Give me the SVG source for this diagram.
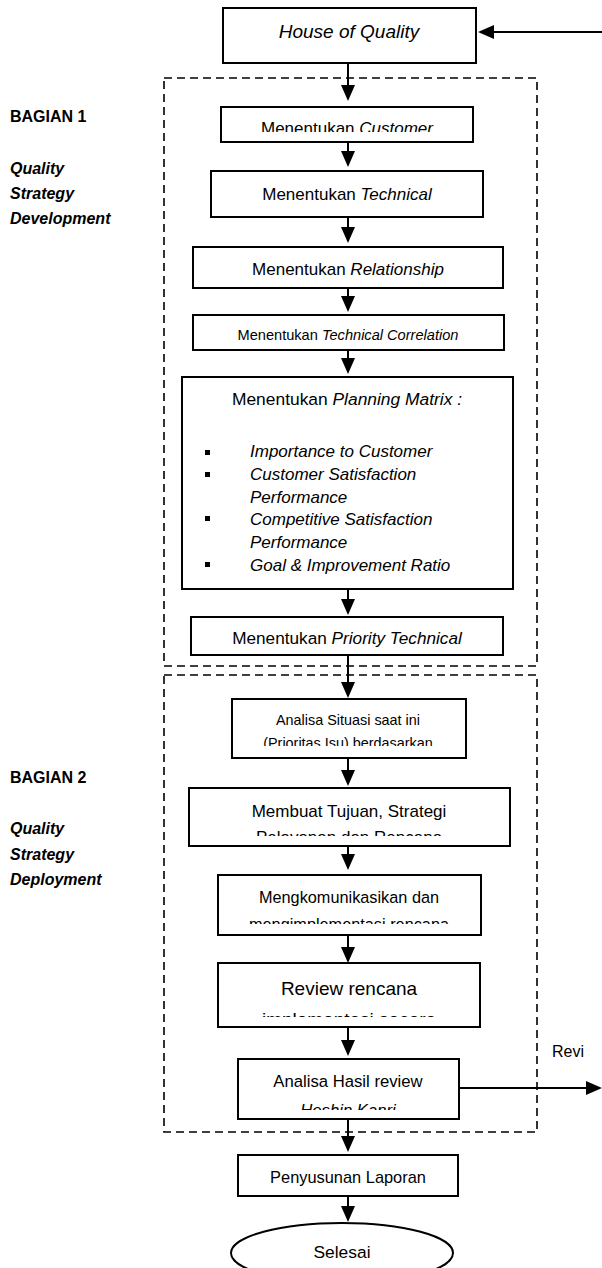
<svg xmlns="http://www.w3.org/2000/svg" width="602" height="1268" viewBox="0 0 602 1268">
<style>
.box{fill:#fff;stroke:#000;stroke-width:2}
.dash{fill:none;stroke:#000;stroke-width:1.6;stroke-dasharray:8 5}
.t{font-family:"Liberation Sans",Arial,sans-serif;fill:#000}
.c{text-anchor:middle}
.i{font-style:italic}
.lbl{font-family:"Liberation Sans",Arial,sans-serif;font-weight:bold;font-size:16px;fill:#000}
.con{stroke:#000;stroke-width:2;fill:none;marker-end:url(#ah)}
</style>
<defs>
<marker id="ah" markerUnits="userSpaceOnUse" markerWidth="16" markerHeight="14" viewBox="0 0 16 14" refX="14" refY="7" orient="auto">
<path d="M0,0 L16,7 L0,14 z" fill="#000"/>
</marker>
<clipPath id="cp-cust"><rect x="221" y="107" width="252" height="25"/></clipPath>
<clipPath id="cp-prio"><rect x="191" y="617" width="312" height="30"/></clipPath>
<clipPath id="cp-anal"><rect x="232" y="699" width="234" height="47"/></clipPath>
<clipPath id="cp-memb"><rect x="189" y="788" width="321" height="48"/></clipPath>
<clipPath id="cp-meng"><rect x="218" y="875" width="263" height="49"/></clipPath>
<clipPath id="cp-rev"><rect x="218" y="963" width="262" height="54"/></clipPath>
<clipPath id="cp-hasil"><rect x="238" y="1059" width="221" height="51"/></clipPath>
<clipPath id="cp-peny"><rect x="238" y="1155" width="220" height="31"/></clipPath>
</defs>

<g id="section1">
<rect class="dash" x="164" y="78" width="373" height="588"/>
<text class="lbl" x="10" y="122">BAGIAN 1</text>
<text class="lbl" x="10" y="174" font-style="italic">Quality</text>
<text class="lbl" x="10" y="199" font-style="italic">Strategy</text>
<text class="lbl" x="10" y="224" font-style="italic">Development</text>
</g>
<g id="section2">
<rect class="dash" x="164" y="675" width="373" height="457"/>
<text class="lbl" x="10" y="783">BAGIAN 2</text>
<text class="lbl" x="10" y="834" font-style="italic">Quality</text>
<text class="lbl" x="10" y="860" font-style="italic">Strategy</text>
<text class="lbl" x="10" y="885" font-style="italic">Deployment</text>
</g>

<g id="connectors">
<line class="con" x1="602" y1="32" x2="480" y2="32"/>
<line class="con" x1="348" y1="63" x2="348" y2="99"/>
<line class="con" x1="348" y1="142" x2="348" y2="165"/>
<line class="con" x1="348" y1="217" x2="348" y2="241"/>
<line class="con" x1="348" y1="288" x2="348" y2="310"/>
<line class="con" x1="348" y1="350" x2="348" y2="372"/>
<line class="con" x1="348" y1="589" x2="348" y2="613"/>
<line class="con" x1="348" y1="655" x2="348" y2="696"/>
<line class="con" x1="348" y1="758" x2="348" y2="784"/>
<line class="con" x1="348" y1="846" x2="348" y2="868"/>
<line class="con" x1="348" y1="935" x2="348" y2="961"/>
<line class="con" x1="348" y1="1027" x2="348" y2="1054"/>
<line class="con" x1="348" y1="1119" x2="348" y2="1150"/>
<line class="con" x1="348" y1="1196" x2="348" y2="1220"/>
<line class="con" x1="459" y1="1088" x2="600" y2="1088"/>
<text class="t" x="552" y="1057" font-size="16">Revi</text>
</g>

<g id="house">
<rect class="box" x="223" y="8" width="253" height="55"/>
<text class="t c i" x="349" y="38" font-size="19">House of Quality</text>
</g>
<g id="customer">
<rect class="box" x="221" y="107" width="252" height="35"/>
<text class="t c" x="347" y="134" font-size="17" clip-path="url(#cp-cust)">Menentukan <tspan class="i">Customer</tspan></text>
</g>
<g id="technical">
<rect class="box" x="211" y="171" width="272" height="46"/>
<text class="t c" x="347" y="200" font-size="17">Menentukan <tspan class="i">Technical</tspan></text>
</g>
<g id="relationship">
<rect class="box" x="193" y="247" width="310" height="41"/>
<text class="t c" x="348" y="275" font-size="17">Menentukan <tspan class="i">Relationship</tspan></text>
</g>
<g id="correlation">
<rect class="box" x="193" y="315" width="311" height="35"/>
<text class="t c" x="348" y="340" font-size="14.6">Menentukan <tspan class="i">Technical Correlation</tspan></text>
</g>
<g id="planning">
<rect class="box" x="182" y="377" width="331" height="212"/>
<text class="t c" x="347" y="405" font-size="17.4">Menentukan <tspan class="i">Planning Matrix :</tspan></text>
<rect x="205" y="450" width="5" height="5"/>
<rect x="205" y="472" width="5" height="5"/>
<rect x="205" y="516" width="5" height="5"/>
<rect x="205" y="562" width="5" height="5"/>
<text class="t i" x="250" y="457" font-size="17">Importance to Customer</text>
<text class="t i" x="250" y="480" font-size="17">Customer Satisfaction</text>
<text class="t i" x="250" y="503" font-size="17">Performance</text>
<text class="t i" x="250" y="525" font-size="17">Competitive Satisfaction</text>
<text class="t i" x="250" y="548" font-size="17">Performance</text>
<text class="t i" x="250" y="571" font-size="17">Goal &amp; Improvement Ratio</text>
</g>
<g id="priority">
<rect class="box" x="191" y="617" width="312" height="38"/>
<text class="t c" x="347" y="644" font-size="17.2" clip-path="url(#cp-prio)">Menentukan <tspan class="i">Priority Technical</tspan></text>
</g>
<g id="analisa-situasi">
<rect class="box" x="232" y="699" width="234" height="59"/>
<g clip-path="url(#cp-anal)">
<text class="t c" x="348" y="725" font-size="14.4">Analisa Situasi saat ini</text>
<text class="t c" x="348" y="748" font-size="14.4">(Prioritas Isu) berdasarkan</text>
</g>
</g>
<g id="membuat">
<rect class="box" x="189" y="788" width="321" height="58"/>
<g clip-path="url(#cp-memb)">
<text class="t c" x="349" y="817" font-size="17">Membuat Tujuan, Strategi</text>
<text class="t c" x="349" y="843" font-size="17">Pelayanan dan Rencana</text>
</g>
</g>
<g id="mengkomunikasikan">
<rect class="box" x="218" y="875" width="263" height="60"/>
<g clip-path="url(#cp-meng)">
<text class="t c" x="349" y="903" font-size="16.3">Mengkomunikasikan dan</text>
<text class="t c" x="349" y="930" font-size="16.3">mengimplementasi rencana</text>
</g>
</g>
<g id="review">
<rect class="box" x="218" y="963" width="262" height="64"/>
<g clip-path="url(#cp-rev)">
<text class="t c" x="349" y="995" font-size="19">Review rencana</text>
<text class="t c" x="349" y="1026" font-size="19">implementasi secara</text>
</g>
</g>
<g id="analisa-hasil">
<rect class="box" x="238" y="1059" width="221" height="60"/>
<g clip-path="url(#cp-hasil)">
<text class="t c" x="348" y="1087" font-size="16.7">Analisa Hasil review</text>
<text class="t c i" x="348" y="1116" font-size="16.7">Hoshin Kanri</text>
</g>
</g>
<g id="penyusunan">
<rect class="box" x="238" y="1155" width="220" height="41"/>
<text class="t c" x="348" y="1183" font-size="16.4" clip-path="url(#cp-peny)">Penyusunan Laporan</text>
</g>
<g id="selesai">
<ellipse class="box" cx="342" cy="1253" rx="111" ry="30"/>
<text class="t c" x="342" y="1258" font-size="17.4">Selesai</text>
</g>
</svg>
